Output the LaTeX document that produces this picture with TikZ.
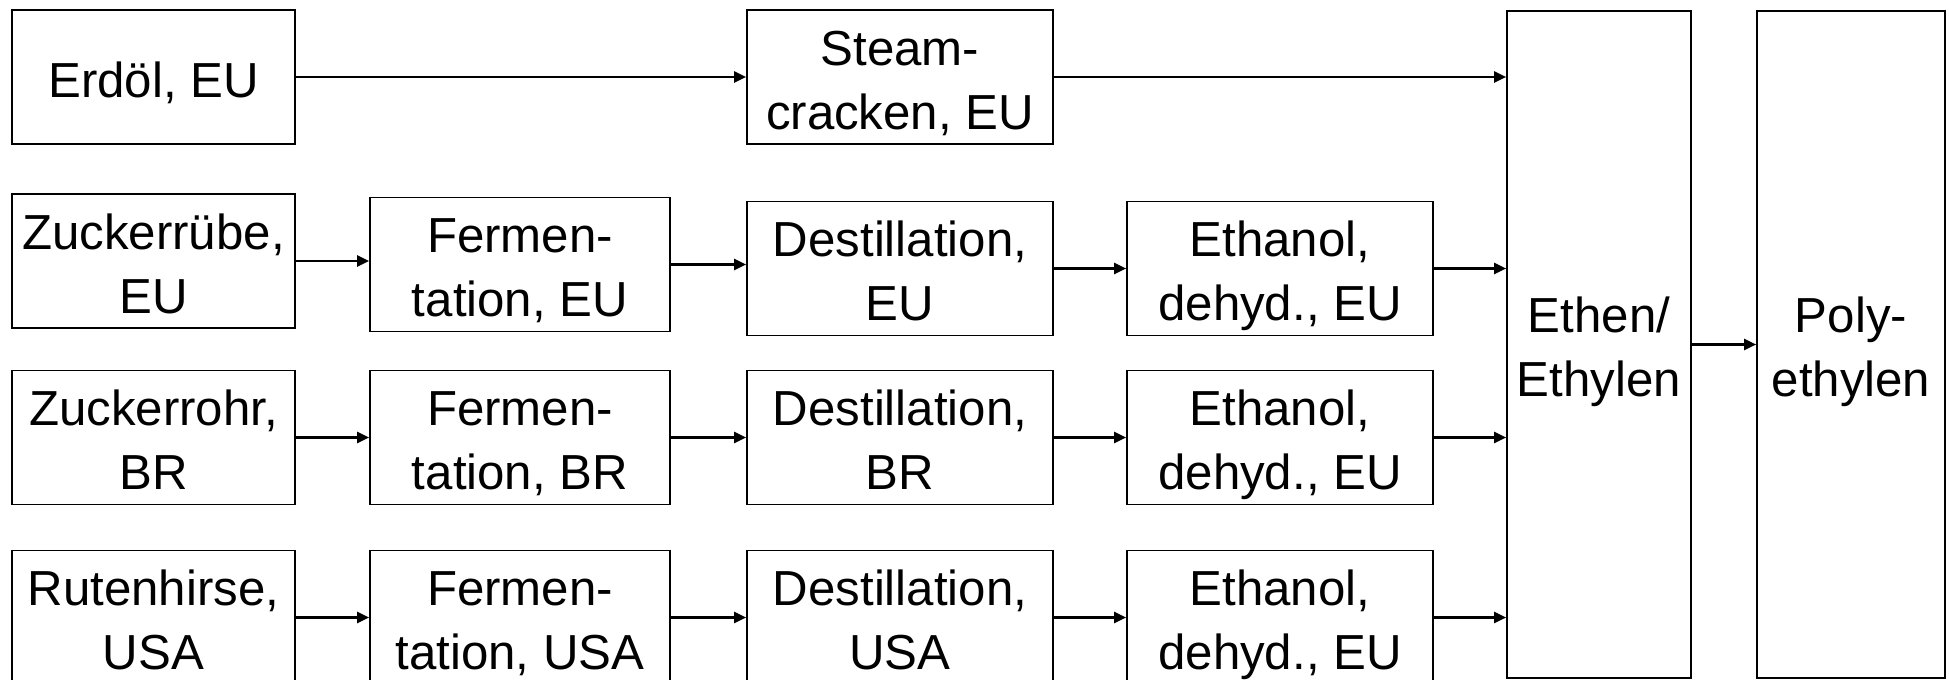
\documentclass[tikz,border=0pt]{standalone}
\usepackage{fontspec}
\setmainfont{Liberation Sans}
\usetikzlibrary{arrows.meta}

% struts so that all box texts sit at the same height
\newcommand{\nodetop}{\rule{0pt}{26pt}}
\newcommand{\nodebot}{\rule[-6pt]{0pt}{6pt}}

\begin{document}
\begin{tikzpicture}[
		x=0.5pt, y=-0.5pt,
		box/.style={draw=black, line width=0.85pt, rectangle, inner sep=0pt,
			minimum height=67pt, align=center,
			font=\fontsize{24.6}{32}\selectfont},
		arr/.style={line width=1.1pt, -{Triangle[length=6pt,width=5.5pt]}},
	]
		\useasboundingbox (0,0) rectangle (1949,680);
		\fill[white] (0,0) rectangle (1949,680);

		% fossil route
		\node[box, minimum width=141.5pt] (erdoel) at (153.5,77) {\nodetop Erdöl, EU\nodebot};
		\node[box, minimum width=153pt] (steam) at (900,77) {\nodetop Steam-\\cracken, EU\nodebot};

		% collecting boxes on the right
		\node[box, minimum width=92pt, minimum height=333.5pt] (ethen) at (1599,344.5) {\nodetop Ethen/\\Ethylen\nodebot};
		\node[box, minimum width=94pt, minimum height=333.5pt] (poly) at (1851,344.5) {\nodetop Poly-\\ethylen\nodebot};

		\draw[arr] (erdoel) -- (steam);
		\draw[arr] (steam.east) -- (steam.east -| ethen.west);
		\draw[arr] (ethen) -- (poly);

		% bio routes via ethanol
		\foreach \n/\src/\reg/\ya/\yb/\yc in {1/Zuckerrübe/EU/261/264.5/268.5, 2/Zuckerrohr/BR/437.5/437.5/437.5, 3/Rutenhirse/USA/617.5/617.5/617.5}{
			\node[box, minimum width=141.5pt] (src\n) at (153.5,\ya) {\nodetop\src,\\\reg\nodebot};
			\node[box, minimum width=150pt] (ferm\n) at (520,\yb) {\nodetop Fermen-\\tation, \reg\nodebot};
			\node[box, minimum width=153pt] (dest\n) at (900,\yc) {\nodetop Destillation,\\\reg\nodebot};
			\node[box, minimum width=153pt] (etoh\n) at (1280,\yc) {\nodetop Ethanol,\\dehyd., EU\nodebot};
			\draw[arr] (src\n.east) -- (src\n.east -| ferm\n.west);
			\draw[arr] (ferm\n.east) -- (ferm\n.east -| dest\n.west);
			\draw[arr] (dest\n.east) -- (dest\n.east -| etoh\n.west);
			\draw[arr] (etoh\n.east) -- (etoh\n.east -| ethen.west);
		}
	\end{tikzpicture}
\end{document}
